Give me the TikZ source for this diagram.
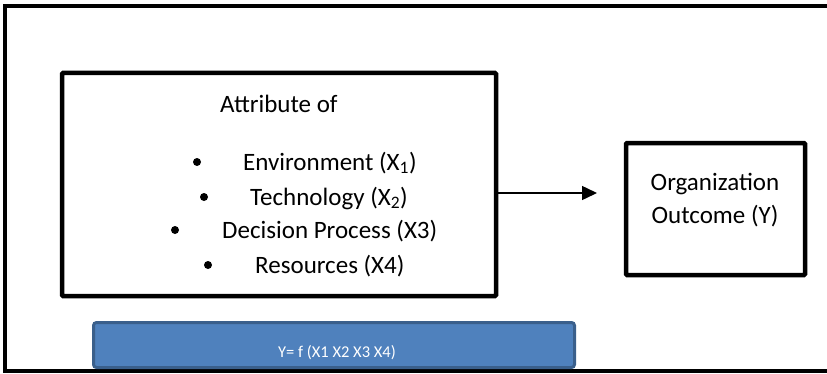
\documentclass[tikz,border=0pt]{standalone}
\usepackage{fontspec}
\setmainfont{Carlito}
\usetikzlibrary{arrows.meta}
\definecolor{barfill}{HTML}{4F81BD}
\definecolor{barline}{HTML}{3A5F8B}
\tikzset{
  frame/.style={draw=black, line width=4pt},
  boxline/.style={draw=black, line width=4.5pt, rounded corners=1pt},
  txt/.style={font=\fontsize{25}{30}\selectfont, inner sep=0pt, anchor=base west},
  ctxt/.style={font=\fontsize{25}{30}\selectfont, inner sep=0pt, anchor=base},
  dot/.style={circle, fill=black, inner sep=0pt, minimum size=8pt},
}
\begin{document}
\begin{tikzpicture}[x=1pt,y=1pt]
\useasboundingbox (0,0) rectangle (827,373);
% outer frame (right edge beyond the picture)
\draw[frame] (835,367) -- (5,367) -- (5,2) -- (835,2);
% left box
\draw[boxline] (62,300) rectangle (496,77);
% right box
\draw[boxline] (626,230) rectangle (805,98);
\node[ctxt] (O1) at (715,183) {Organization};
\node[ctxt] (O2) at (715,150) {Outcome (Y)};
% texts in left box
\node[txt] (t0) at (220,261) {Attribute of};
\node[dot] (b1) at (197,211) {};
\node[txt] (t1) at (243,203) {Environment (X\textsubscript{1})};
\node[dot] (b2) at (204,176) {};
\node[txt] (t2) at (250,168) {Technology (X\textsubscript{2})};
\node[dot] (b3) at (175,143) {};
\node[txt] (t3) at (222,135) {Decision Process (X3)};
\node[dot] (b4) at (208,108) {};
\node[txt] (t4) at (255,100) {Resources (X4)};
% arrow
\coordinate (s) at (498,180);
\coordinate (e) at (597,180);
\draw[line width=1.5pt, -{Triangle[length=15pt,width=14pt]}] (s) -- (e);
% formula bar
\node[draw=barline, fill=barfill, line width=3pt, rounded corners=3pt, minimum width=481pt, minimum height=45pt, inner sep=0pt] (F) at (334,28) {};
\node[font=\fontsize{16.5}{18}\selectfont, text=white, inner sep=0pt, anchor=base] (Ft) at (337,16) {Y= f (X1 X2 X3 X4)};
\end{tikzpicture}
\end{document}
